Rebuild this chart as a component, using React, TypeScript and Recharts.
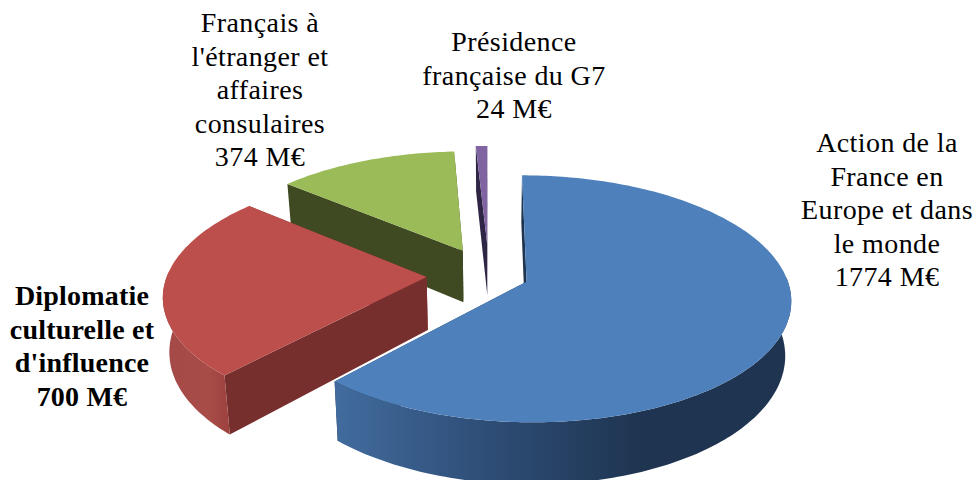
import React from 'react';
import { PieChart, Pie } from 'recharts';

const categories = [
  ['Action de la', 'France en', 'Europe et dans', 'le monde'],
  ['Diplomatie', 'culturelle et', "d'influence"],
  ['Français à', "l'étranger et", 'affaires', 'consulaires'],
  ['Présidence', 'française du G7'],
];
const budgets = [1774, 700, 374, 24];

// look of the slices
const topColors = ['#4e80bc', '#bc4f4c', '#9bbb59', '#8064a2'];
const wallColors = ['#1e3450', '#772f2d', '#3f4a22', '#2f2545'];
const rimStops = [
  [['0', '#426c9e'], ['0.3', '#30507a'], ['0.68', '#1e3450'], ['1', '#1e3450']],
  [['0', '#a44a47'], ['0.7', '#a84c48'], ['1', '#9c413e']],
  [['0', '#4f5e2a'], ['1', '#3f4a22']],
  [['0', '#2f2545'], ['1', '#2f2545']],
];
const explode = [41, 64, 62, 72];
const labelX = [887, 82, 260, 514];
const labelY = [152, 305, 32, 51];

const TILT = 0.4484;
const PERSPECTIVE = 0.1376;
const WIDEN = 0.975;
const DEPTH = 53;
const BOTTOM_SCALE = 0.98;
const LINE_HEIGHT = 33.5;
const FONT = '"Liberation Serif", serif';

// drawn back to front, so the pie runs counter-clockwise from the small slice
const data = categories
  .map((lines, i) => ({ name: lines.join(' '), value: budgets[i] }))
  .reverse();

const Slice3D = (props: any) => {
  const { cx, cy, outerRadius: R, startAngle, endAngle, index } = props;
  const i = data.length - 1 - index;
  // recharts angles -> clockwise from 12 o'clock
  const a0 = Math.min(90 - startAngle, 90 - endAngle);
  const a1 = Math.max(90 - startAngle, 90 - endAngle);
  const mid = ((a0 + a1) / 2) * (Math.PI / 180);
  const ex = explode[i] * Math.sin(mid);
  const ez = explode[i] * Math.cos(mid);

  const project = (X: number, Z: number, low: boolean) => {
    const w = 1 + (PERSPECTIVE * Z) / R;
    const s = low ? BOTTOM_SCALE : 1;
    return [cx + (WIDEN * s * X) / w, cy - (TILT * Z) / w + (low ? DEPTH / w : 0)];
  };
  const rim = (deg: number, low: boolean) => {
    const t = (deg * Math.PI) / 180;
    return project(R * Math.sin(t) + ex, R * Math.cos(t) + ez, low);
  };
  const apex = (low: boolean) => project(ex, ez, low);

  const arc: number[] = [];
  for (let d = a0; d < a1; d += 1) arc.push(d);
  arc.push(a1);
  // only the part of the rim that faces the viewer
  const front = arc.filter((d) => Math.cos((d * Math.PI) / 180) < 0.05);

  const toPath = (pts: number[][]) =>
    'M' + pts.map((p) => `${p[0].toFixed(1)},${p[1].toFixed(1)}`).join('L') + 'Z';

  const top = toPath([apex(false), ...arc.map((d) => rim(d, false))]);
  const wallA = toPath([apex(false), rim(a0, false), rim(a0, true), apex(true)]);
  const wallB = toPath([apex(false), rim(a1, false), rim(a1, true), apex(true)]);
  const outer = toPath([
    ...front.map((d) => rim(d, false)),
    ...front.slice().reverse().map((d) => rim(d, true)),
  ]);

  return (
    <g>
      <defs>
        <linearGradient id={`rim-${i}`} x1="0" y1="0" x2="1" y2="0">
          {rimStops[i].map(([o, c]) => (
            <stop key={o} offset={o} stopColor={c} />
          ))}
        </linearGradient>
      </defs>
      <path d={wallA} fill={wallColors[i]} />
      <path d={wallB} fill={wallColors[i]} />
      {front.length > 1 && <path d={outer} fill={`url(#rim-${i})`} />}
      <path d={top} fill={topColors[i]} />
    </g>
  );
};

const renderLabel = (props: any) => {
  const i = data.length - 1 - props.index;
  const lines = [...categories[i], `${budgets[i]} M€`];
  return (
    <text
      key={i}
      textAnchor="middle"
      fontFamily={FONT}
      fontSize={28}
      fontWeight={i === 1 ? 700 : 400}
      letterSpacing={i === 1 ? 0.2 : 0.4}
      fill="#000"
    >
      {lines.map((line, n) => (
        <tspan key={n} x={labelX[i]} y={labelY[i] + n * LINE_HEIGHT}>
          {line}
        </tspan>
      ))}
    </text>
  );
};

export default function App() {
  return (
    <div style={{ position: 'absolute', left: 0, top: 0, width: 979, height: 480 }}>
      <PieChart width={979} height={480} margin={{ top: 0, right: 0, bottom: 0, left: 0 }}>
        <Pie
          data={data}
          dataKey="value"
          nameKey="name"
          cx={489}
          cy={275}
          outerRadius={266}
          startAngle={90}
          endAngle={450}
          stroke="none"
          shape={Slice3D}
          label={renderLabel}
          labelLine={false}
          isAnimationActive={false}
        />
      </PieChart>
    </div>
  );
}
